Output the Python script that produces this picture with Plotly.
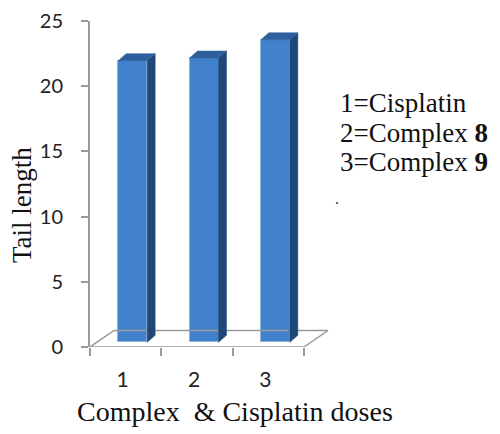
import plotly.graph_objects as go

# ---- data ----
categories = [1, 2, 3]
category_labels = ["1", "2", "3"]
tail_length = [21.6, 21.8, 23.2]
key_lines = ["1=Cisplatin", "2=Complex <b>8</b>", "3=Complex <b>9</b>"]
y_ticks = [0, 5, 10, 15, 20, 25]

# ---- layout geometry (screen px) ----
PLOT_L, PLOT_B, PLOT_W, PLOT_H = 90, 347, 244, 326


def px(x):
    return (x - PLOT_L) / PLOT_W


def py(y):
    return (PLOT_B - y) / PLOT_H


# ---- 3D look (style constants, in axis units) ----
PX_X = 71.33          # px per x unit
PX_Y = PLOT_H / 25    # px per y unit
bar_w = 29 / PX_X
front_dx, front_dy = 7 / PX_X, 4.7 / PX_Y
depth_dx, depth_dy = 8 / PX_X, 7 / PX_Y
floor_dx, floor_dy = 24 / PX_X, 16.5 / PX_Y
x_lo, x_hi = 0.5, 3.5

FRONT = "#4281CB"
SIDE = "#1F4778"
TOP = "#2F5E9C"
GRID = "#9A9A9A"
SERIF = "Liberation Serif, Times New Roman, serif"
SANS = "Lato, Open Sans, sans-serif"

fig = go.Figure()

# floor
fig.add_trace(go.Scatter(
    x=[x_lo, x_hi, x_hi + floor_dx, x_lo + floor_dx, x_lo],
    y=[0, 0, floor_dy, floor_dy, 0],
    mode="lines", line=dict(color=GRID, width=1.5),
    hoverinfo="skip", showlegend=False))

for c, v in zip(categories, tail_length):
    xl = c + front_dx - bar_w / 2
    xr = c + front_dx + bar_w / 2
    b = front_dy
    # side face
    fig.add_trace(go.Scatter(
        x=[xr, xr, xr + depth_dx, xr + depth_dx, xr],
        y=[b, b + v, b + v + depth_dy, b + depth_dy, b],
        fill="toself", fillcolor=SIDE, mode="lines",
        line=dict(color=SIDE, width=0.5),
        hoverinfo="skip", showlegend=False))
    # top face
    fig.add_trace(go.Scatter(
        x=[xl, xr, xr + depth_dx, xl + depth_dx, xl],
        y=[b + v, b + v, b + v + depth_dy, b + v + depth_dy, b + v],
        fill="toself", fillcolor=TOP, mode="lines",
        line=dict(color=TOP, width=0.5),
        hoverinfo="skip", showlegend=False))

# front faces
fig.add_trace(go.Bar(
    x=categories, y=tail_length, base=front_dy,
    width=bar_w, offset=front_dx - bar_w / 2,
    marker=dict(color=FRONT, line=dict(color="#8FB2E0", width=1)),
    showlegend=False, hoverinfo="skip"))

# page body adds an 8 px offset, so margins are reduced by 8
fig.update_layout(
    width=500, height=434,
    margin=dict(l=PLOT_L - 8, r=500 - PLOT_L - PLOT_W + 8,
                t=PLOT_B - PLOT_H - 8, b=434 - PLOT_B + 8),
    paper_bgcolor="white", plot_bgcolor="white",
    bargap=0,
    xaxis=dict(
        range=[0.5, 0.5 + PLOT_W / PX_X], automargin=False,
        showgrid=False, zeroline=False, showline=False,
        tickvals=categories, ticktext=category_labels,
        ticks="", ticklabelstandoff=18, ticklabelshift=-3,
        ticklabeloverflow="allow",
        tickfont=dict(family=SANS, size=21, color="#222"),
        minor=dict(tickvals=[0.5, 1.5, 2.5, 3.5], ticks="outside",
                   ticklen=8, tickcolor=GRID, tickwidth=2, showgrid=False),
    ),
    yaxis=dict(
        range=[0, 25], tickvals=y_ticks, automargin=False,
        showgrid=False, zeroline=False,
        showline=True, linecolor=GRID, linewidth=2,
        ticks="outside", ticklen=7, tickcolor=GRID, tickwidth=2,
        ticklabelstandoff=14, ticklabeloverflow="allow",
        tickfont=dict(family=SANS, size=20, color="#222"),
    ),
)

# axis titles
fig.add_annotation(text="Tail length", xref="paper", yref="paper",
                   x=px(22), y=py(205),
                   textangle=-90, showarrow=False,
                   xanchor="center", yanchor="middle",
                   font=dict(family=SERIF, size=27, color="#111"))
fig.add_annotation(text="Complex\u00a0 & Cisplatin doses", xref="paper", yref="paper",
                   x=px(235), y=py(411),
                   showarrow=False, xanchor="center", yanchor="middle",
                   font=dict(family=SERIF, size=28, color="#111"))

# key text
for i, line in enumerate(key_lines):
    fig.add_annotation(text=line, xref="paper", yref="paper",
                       x=px(338), y=py(103 + 29.5 * i),
                       showarrow=False, xanchor="left", yanchor="middle",
                       font=dict(family=SERIF, size=27, color="#111"))
fig.add_annotation(text=".", xref="paper", yref="paper",
                   x=px(337), y=py(198),
                   showarrow=False, xanchor="center", yanchor="middle",
                   font=dict(family=SERIF, size=16, color="#333"))

# faint dotted frame edge at right
fig.add_shape(type="line", xref="paper", yref="paper",
              x0=px(497), x1=px(497), y0=py(70), y1=py(215),
              line=dict(color="#C8C8C8", width=1, dash="dot"))

fig.write_html("out.html")
